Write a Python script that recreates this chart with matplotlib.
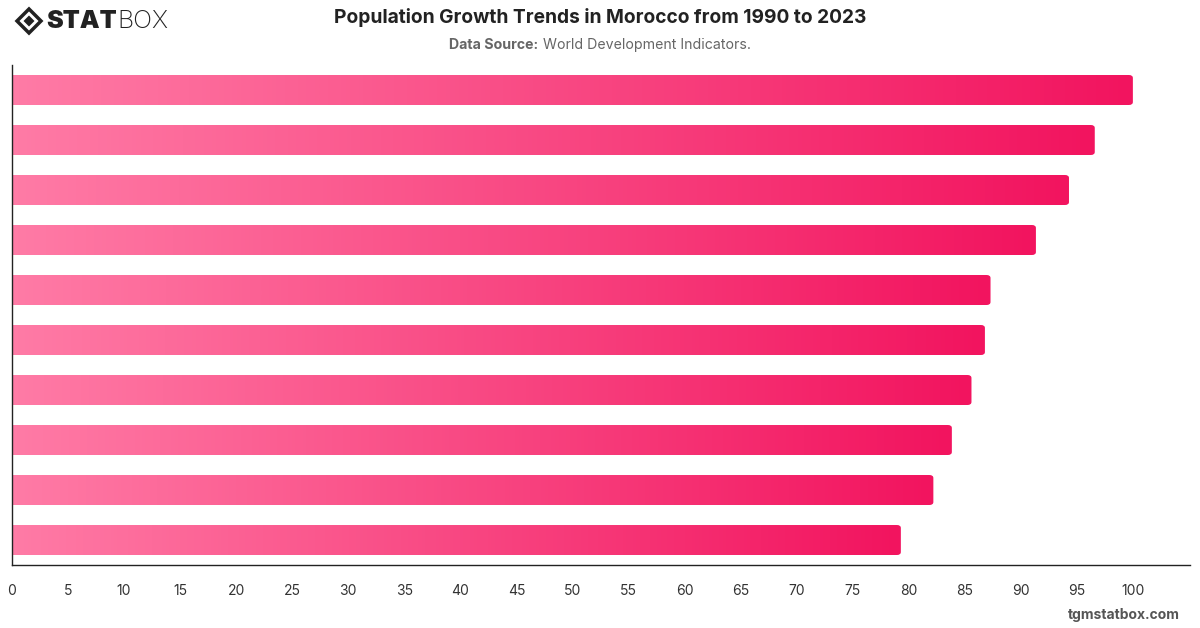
import matplotlib
matplotlib.use('Agg')
from matplotlib import pyplot as plt
from matplotlib.colors import LinearSegmentedColormap
from matplotlib.patches import FancyBboxPatch, Polygon
import numpy as np

# Bars from top to bottom
categories = ['2023', '2020', '2017', '2014', '2011', '2008', '2005', '2000', '1995', '1990']
values = [100.0, 96.6, 94.3, 91.35, 87.3, 86.8, 85.6, 83.85, 82.2, 79.3]
xticks = list(range(0, 101, 5))

plt.rcParams['font.family'] = ['Inter', 'DejaVu Sans']

fig = plt.figure(figsize=(12, 6.28), dpi=100)
ax = fig.add_axes([0.01, 0.1003, 0.9817, 0.7962])

cmap = LinearSegmentedColormap.from_list('pinks', ['#ff7ba6', '#f2145f'])
grad = np.linspace(0, 1, 256).reshape(1, -1)

n = len(values)
bar_h = 0.6
for i, v in enumerate(values):
    y = n - 1 - i
    patch = FancyBboxPatch((-1, y - bar_h / 2), v + 1, bar_h,
                           boxstyle='round,pad=0,rounding_size=0.35',
                           mutation_aspect=bar_h / 3.5,
                           facecolor='none', edgecolor='none')
    ax.add_patch(patch)
    im = ax.imshow(grad, cmap=cmap, aspect='auto', interpolation='bilinear',
                   extent=(0, v, y - bar_h / 2, y + bar_h / 2), zorder=2)
    im.set_clip_path(patch)

ax.set_xlim(0, 105.1)
ax.set_ylim(-0.5, n - 0.5)
ax.set_xticks(xticks)
ax.set_xticklabels([str(t) for t in xticks], fontsize=10, color='#333333')
ax.set_yticks([])
ax.tick_params(axis='x', length=0, pad=14)
for s in ['top', 'right']:
    ax.spines[s].set_visible(False)
for s in ['left', 'bottom']:
    ax.spines[s].set_color('#222222')
    ax.spines[s].set_linewidth(1)

renderer = fig.canvas.get_renderer()

# title and source
fig.text(0.5, 0.972, 'Population Growth Trends in Morocco from 1990 to 2023',
         ha='center', va='center', fontsize=13.8, fontweight='bold', color='#222222')
src_b = fig.text(0, 0.929, 'Data Source:', ha='left', va='center', fontsize=10.2,
                 fontweight='bold', color='#666666')
src_r = fig.text(0, 0.929, ' World Development Indicators.', ha='left', va='center',
                 fontsize=10.2, color='#666666')
wb = src_b.get_window_extent(renderer).width
wr = src_r.get_window_extent(renderer).width
x0 = (600 - (wb + wr) / 2) / 1200
src_b.set_x(x0)
src_r.set_x(x0 + wb / 1200)

# logo
cx, cy = 29 / 1200, 1 - 21 / 628
dx, dy = 12 / 1200, 12 / 628
fig.patches.append(Polygon([(cx - dx, cy), (cx, cy + dy), (cx + dx, cy), (cx, cy - dy)],
                           closed=True, transform=fig.transFigure,
                           facecolor='none', edgecolor='#222222', linewidth=2.5))
dx2, dy2 = 5.5 / 1200, 5.5 / 628
fig.patches.append(Polygon([(cx - dx2, cy), (cx, cy + dy2), (cx + dx2, cy), (cx, cy - dy2)],
                           closed=True, transform=fig.transFigure,
                           facecolor='#222222', edgecolor='none'))
stat = fig.text(46 / 1200, cy, 'STAT', ha='left', va='center', fontsize=18,
                fontweight='black', color='#222222')
ws = stat.get_window_extent(renderer).width
fig.text((46 + ws + 1) / 1200, cy, 'BOX', ha='left', va='center', fontsize=18,
         fontweight='light', color='#222222')

fig.text(1180 / 1200, 1 - 615 / 628, 'tgmstatbox.com', ha='right', va='center',
         fontsize=10, fontweight='bold', color='#555555')

fig.savefig('out.png', dpi=100)
plt.close(fig)
